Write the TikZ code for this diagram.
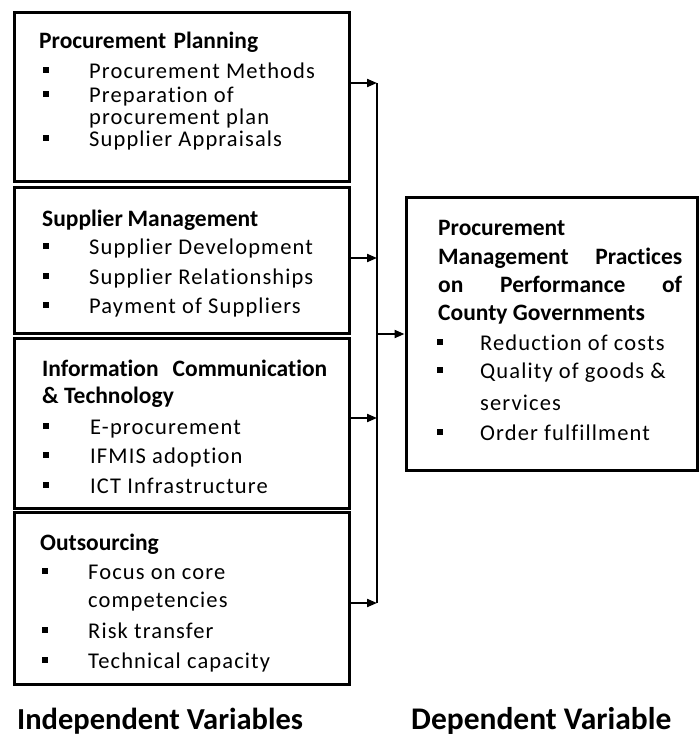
\documentclass[tikz,border=0pt]{standalone}
\usepackage{fontspec}
\usetikzlibrary{arrows.meta}
\setmainfont{Carlito}
\newfontfamily\regfont{Carlito}[LetterSpace=5,Ligatures=NoCommon]
\newfontfamily\boldfont{Carlito}[Ligatures=NoCommon]
\tikzset{
  box/.style={draw, line width=3pt, inner sep=0pt},
  reg/.style={anchor=base west, inner sep=0pt, font=\regfont\fontsize{22.5}{26}\selectfont},
  ttl/.style={anchor=base west, inner sep=0pt, font=\boldfont\bfseries\fontsize{23.5}{27}\selectfont},
  big/.style={anchor=base west, inner sep=0pt, font=\boldfont\bfseries\fontsize{30.5}{34}\selectfont},
  bul/.style={fill=black, inner sep=0pt, minimum size=6.5pt, shape=rectangle},
  arr/.style={line width=2pt, -{Triangle[length=10pt,width=8pt]}},
  conn/.style={line width=1.6pt}
}
\begin{document}
\begin{tikzpicture}[x=1pt,y=-1pt]
\useasboundingbox (0,0) rectangle (699,742);
% boxes
\node[box, minimum width=335pt, minimum height=169pt] (b1) at (181.5,96.5) {};
\node[box, minimum width=335pt, minimum height=146pt] (b2) at (181.5,260) {};
\node[box, minimum width=335pt, minimum height=170pt] (b3) at (181.5,423) {};
\node[box, minimum width=335pt, minimum height=172pt] (b4) at (181.5,598) {};
\node[box, minimum width=291pt, minimum height=273pt] (r) at (551.5,333.5) {};
% box 1
\node[ttl] (t1) at (39,48) {\hbox to 219pt{Procurement\hfill Planning}};
\node[bul] (p1a) at (46,70) {};
\node[reg] (l1a) at (89,78) {Procurement Methods};
\node[bul] (p1b) at (46,94) {};
\node[reg] (l1b) at (89,102) {Preparation of};
\node[reg] (l1c) at (89,124) {procurement plan};
\node[bul] (p1d) at (46,138) {};
\node[reg] (l1d) at (89,146) {Supplier Appraisals};
% box 2
\node[ttl] (t2) at (42,226) {\hbox to 216pt{Supplier\hfill Management}};
\node[bul] (p2a) at (46,246) {};
\node[reg] (l2a) at (89,254) {Supplier Development};
\node[bul] (p2b) at (46,276) {};
\node[reg] (l2b) at (89,284) {Supplier Relationships};
\node[bul] (p2c) at (46,305) {};
\node[reg] (l2c) at (89,313) {Payment of Suppliers};
% box 3
\node[ttl] (t3) at (42,376) {\hbox to 285pt{Information\hfill Communication}};
\node[ttl] (t3b) at (42,403) {\& Technology};
\node[bul] (p3a) at (46,426) {};
\node[reg] (l3a) at (90,434) {E-procurement};
\node[bul] (p3b) at (46,455) {};
\node[reg] (l3b) at (90,463) {IFMIS adoption};
\node[bul] (p3c) at (46,485) {};
\node[reg] (l3c) at (90,493) {ICT Infrastructure};
% box 4
\node[ttl] (t4) at (40,550) {Outsourcing};
\node[bul] (p4a) at (45,571) {};
\node[reg] (l4a) at (88,579) {Focus on core};
\node[reg] (l4b) at (88,607) {competencies};
\node[bul] (p4c) at (45,630) {};
\node[reg] (l4c) at (88,638) {Risk transfer};
\node[bul] (p4d) at (45,660) {};
\node[reg] (l4d) at (88,668) {Technical capacity};
% right box
\node[ttl] (rt1) at (438,235) {Procurement};
\node[ttl] (rt2) at (438,264) {\hbox to 244pt{Management\hfill Practices}};
\node[ttl] (rt3) at (438,292) {\hbox to 244pt{on\hfill Performance\hfill of}};
\node[ttl] (rt4) at (438,320) {County Governments};
\node[bul] (rpa) at (440,342) {};
\node[reg] (rla) at (480,350) {Reduction of costs};
\node[bul] (rpb) at (440,370) {};
\node[reg] (rlb) at (480,378) {Quality of goods \&};
\node[reg] (rlc) at (480,410) {services};
\node[bul] (rpd) at (440,432) {};
\node[reg] (rld) at (480,440) {Order fulfillment};
% labels
\node[big] (ind) at (17,729) {Independent Variables};
\node[big, font=\boldfont\bfseries\fontsize{31.5}{35}\selectfont] (dep) at (411,729) {Dependent Variable};
% connectors
\coordinate (j1) at (377,83);
\coordinate (j2) at (377,258);
\coordinate (j3) at (377,418);
\coordinate (j4) at (377,603);
\coordinate (jm) at (377,334);
\draw[conn] (j1) -- (j4);
\draw[arr] (b1.east |- j1) -- (j1);
\draw[arr] (b2.east |- j2) -- (j2);
\draw[arr] (b3.east |- j3) -- (j3);
\draw[arr] (b4.east |- j4) -- (j4);
\draw[arr] (jm) -- (r.west |- jm);
\end{tikzpicture}
\end{document}
